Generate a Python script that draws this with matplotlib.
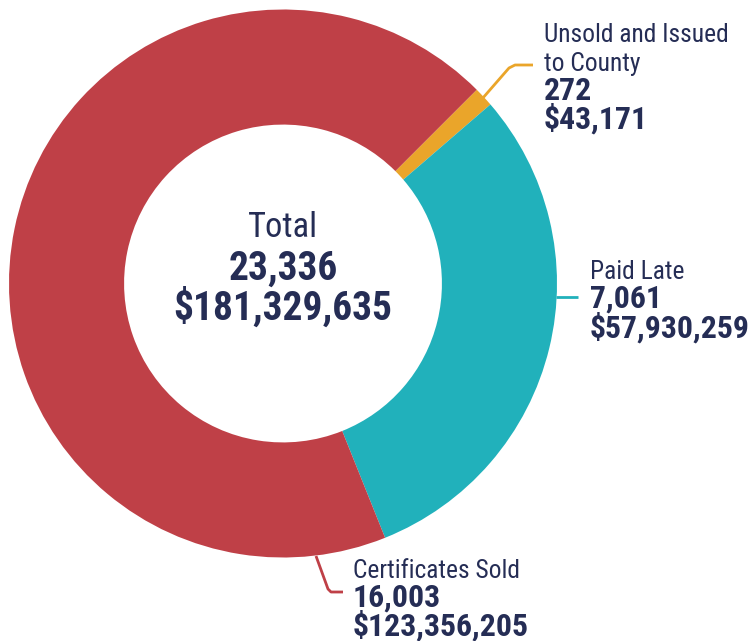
import matplotlib
matplotlib.use("Agg")
import matplotlib.pyplot as plt
from matplotlib import font_manager as fm

categories = ["Unsold and Issued\nto County", "Paid Late", "Certificates Sold"]
counts = [272, 7061, 16003]
amounts = [43171, 57930259, 123356205]
total_count = 23336
total_amount = 181329635
colors = ["#eaa52a", "#21b1bb", "#bf4047"]
navy = "#252d55"

cands = ["Roboto Condensed", "Archivo Narrow", "Barlow Condensed", "Fira Sans Condensed",
         "IBM Plex Sans Condensed", "Asap Condensed", "Encode Sans Condensed"]
def has(name, wmin, wmax):
    for f in fm.fontManager.ttflist:
        try:
            w = int(f.weight)
        except Exception:
            w = {"normal": 400, "regular": 400, "bold": 700}.get(str(f.weight), 400)
        if f.name == name and wmin <= w <= wmax and f.style == "normal":
            return True
    return False
reg_fam = next((c for c in cands if has(c, 400, 400)), "DejaVu Sans")
bold_fam = next((c for c in cands if has(c, 700, 700)), reg_fam)
REG = [reg_fam, "DejaVu Sans"]
BOLD = [bold_fam, "DejaVu Sans"]

W, H = 752, 641
fig = plt.figure(figsize=(W / 100, H / 100), dpi=100)
ax = fig.add_axes([0, 0, 1, 1])

def Y(y):
    return H - y

cx, cy, R = 283, 283.5, 274
ax.pie(counts, colors=colors, startangle=45, counterclock=False,
       center=(cx, Y(cy)), radius=R,
       wedgeprops=dict(width=R * 0.42, linewidth=0), frame=True)
ax.set_xlim(0, W)
ax.set_ylim(0, H)
ax.set_aspect("equal")
ax.axis("off")

renderer = fig.canvas.get_renderer()

def fit_size(s, target_px, fam, weight):
    t = ax.text(0, 0, s, fontsize=10, family=fam, weight=weight)
    w = t.get_window_extent(renderer).width
    t.remove()
    return 10 * target_px / w

fs_cb = fit_size(f"${total_amount:,}", 220, BOLD, "bold")
fs_cr = fit_size("Total", 70, REG, "normal")
fs_b = fit_size(f"${amounts[1]:,}", 160, BOLD, "bold")
fs_r = fit_size("Unsold and Issued", 184, REG, "normal")

# center text
ax.text(cx, Y(237), "Total", ha="center", va="baseline", fontsize=fs_cr,
        family=REG, color=navy)
ax.text(cx, Y(280), f"{total_count:,}", ha="center", va="baseline", fontsize=fs_cb,
        family=BOLD, weight="bold", color=navy)
ax.text(cx, Y(320), f"${total_amount:,}", ha="center", va="baseline", fontsize=fs_cb,
        family=BOLD, weight="bold", color=navy)

def label(x, baselines, cat, cnt, amt):
    lines = cat.split("\n")
    for i, ln in enumerate(lines):
        ax.text(x, Y(baselines[i]), ln, ha="left", va="baseline", fontsize=fs_r,
                family=REG, color=navy)
    n = len(lines)
    ax.text(x, Y(baselines[n]), f"{cnt:,}", ha="left", va="baseline", fontsize=fs_b,
            family=BOLD, weight="bold", color=navy)
    ax.text(x, Y(baselines[n + 1]), f"${amt:,}", ha="left", va="baseline", fontsize=fs_b,
            family=BOLD, weight="bold", color=navy)

label(544, [42, 71, 100, 129], categories[0], counts[0], amounts[0])
label(590, [279, 308, 338], categories[1], counts[1], amounts[1])
label(353, [578, 607, 636], categories[2], counts[2], amounts[2])

# leader lines
lw = 2.0
ax.plot([482, 509, 515, 533], [Y(99), Y(68), Y(65), Y(65)], color=colors[0], lw=lw,
        solid_capstyle="butt", solid_joinstyle="round")
ax.plot([556, 578], [Y(297), Y(297)], color=colors[1], lw=lw, solid_capstyle="butt")
ax.plot([316, 328, 331, 343], [Y(556), Y(589), Y(592), Y(592)], color=colors[2], lw=lw,
        solid_capstyle="butt", solid_joinstyle="round")

fig.savefig("out.png", dpi=100, facecolor="white")
